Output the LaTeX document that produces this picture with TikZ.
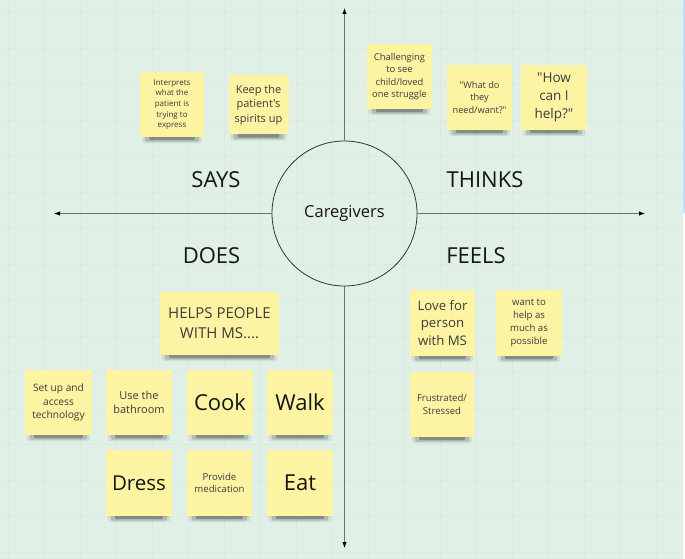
\documentclass[tikz,border=0pt]{standalone}
\usepackage{fontspec}
\setmainfont{Open Sans}[Ligatures=TeXOff]
\usetikzlibrary{arrows.meta}
\definecolor{bgc}{HTML}{E1F0E6}
\definecolor{gridc}{HTML}{D8EADE}
\definecolor{notec}{HTML}{FDF4A3}
\definecolor{axisc}{HTML}{707070}
\definecolor{smalltext}{HTML}{3C3C3C}
\definecolor{bigtext}{HTML}{151515}
\definecolor{stripc}{HTML}{C3DDF2}
\newcommand\fsz[1]{\fontsize{#1}{\fpeval{1.33*#1}}\selectfont}
\pgfdeclarelayer{back}
\pgfdeclarelayer{shadowlayer}
\pgfsetlayers{back,shadowlayer,main}
\tikzset{
  note/.style={rectangle, fill=notec, inner sep=0pt, align=center, text=smalltext},
  bignote/.style={note, text=bigtext},
  axisline/.style={draw=axisc, line width=0.9pt, -{Latex[length=6pt,width=4.5pt,color=black]}},
  quadlabel/.style={font=\fsz{22}, text=bigtext, inner sep=0pt},
  hub/.style={circle, draw=black!80, line width=0.8pt, minimum size=145pt, inner sep=0pt, font=\fsz{16.5}, text=bigtext}
}
\begin{document}
\begin{tikzpicture}[x=1pt,y=-1pt]
\useasboundingbox (0,0) rectangle (685,559);
\begin{pgfonlayer}{back}
\fill[bgc] (0,0) rectangle (685,559);
\foreach \x in {8,44,...,684} \draw[gridc, line width=0.5pt] (\x,0) -- (\x,559);
\foreach \y in {12,48,...,559} \draw[gridc, line width=0.5pt] (0,\y) -- (685,\y);
\fill[stripc] (683,0) rectangle (685,213);
\fill[white] (683,213) rectangle (685,559);
\end{pgfonlayer}

% hub and axes
\node[hub] (care) at (344.5,213.5) {Caregivers};
\coordinate (topend) at (344.5,8);
\coordinate (botend) at (344.5,548);
\coordinate (leftend) at (54,213.5);
\coordinate (rightend) at (645,213.5);
\draw[axisline] (care.north) -- (topend);
\draw[axisline] (care.south) -- (botend);
\draw[axisline] (care.west) -- (leftend);
\draw[axisline] (care.east) -- (rightend);

% quadrant labels
\node[quadlabel] (says) at (216,180) {SAYS};
\node[quadlabel] (thinks) at (485,180) {THINKS};
\node[quadlabel] (does) at (211.5,256) {DOES};
\node[quadlabel] (feels) at (476,256) {FEELS};

% SAYS
\node[note, minimum width=64pt, minimum height=65pt, font=\fsz{8}] (interp) at (172,104.5) {Interprets\\what the\\patient is\\trying to\\express};
\node[note, minimum width=60pt, minimum height=59pt, font=\fsz{11}] (keep) at (258.5,105) {Keep the\\patient's\\spirits up};

% THINKS
\node[note, minimum width=65pt, minimum height=65pt, font=\fsz{9.4}] (chall) at (399.5,76.5) {Challenging\\to see\\child/loved\\one struggle};
\node[note, minimum width=65pt, minimum height=65pt, font=\fsz{9.2}] (what) at (479.5,97.5) {"What do\\they\\need/want?"};
\node[note, minimum width=66pt, minimum height=65pt, font=\fsz{13.5}] (how) at (554,97.5) {"How\\can I\\help?"};

% FEELS
\node[note, minimum width=65pt, minimum height=66pt, font=\fsz{13.2}] (love) at (442.5,323) {Love for\\person\\with MS};
\node[note, minimum width=66pt, minimum height=66pt, font=\fsz{9.6}] (want) at (529,323) {want to\\help as\\much as\\possible};
\node[note, minimum width=64pt, minimum height=65pt, font=\fsz{9.6}] (frus) at (442,404.5) {Frustrated/\\Stressed};

% DOES
\node[note, minimum width=119pt, minimum height=63pt, font=\fsz{15}] (helps) at (219.5,323.5) {HELPS PEOPLE\\WITH MS....};
\node[note, minimum width=67pt, minimum height=65pt, font=\fsz{10.2}] (setup) at (58.5,402.5) {Set up and\\access\\technology};
\node[note, minimum width=66pt, minimum height=65pt, font=\fsz{11}] (bath) at (139,402.5) {Use the\\bathroom};
\node[bignote, minimum width=66pt, minimum height=65pt, font=\fsz{22}] (cook) at (220,402.5) {Cook};
\node[bignote, minimum width=66pt, minimum height=65pt, font=\fsz{22}] (walk) at (300,402.5) {Walk};
\node[bignote, minimum width=66pt, minimum height=66pt, font=\fsz{20.5}] (dress) at (139,483) {Dress};
\node[note, minimum width=65pt, minimum height=66pt, font=\fsz{9.6}] (provide) at (219.5,483) {Provide\\medication};
\node[bignote, minimum width=66pt, minimum height=66pt, font=\fsz{22}] (eat) at (300,483) {Eat};

% shadows under the notes
\begin{pgfonlayer}{shadowlayer}
\foreach \n in {interp,keep,chall,what,how,love,want,frus,helps,setup,bath,cook,walk,dress,provide,eat} {
  \fill[black, opacity=0.08, rounded corners=3pt] ([xshift=2pt,yshift=3pt]\n.south west) rectangle ([xshift=-2pt,yshift=-6pt]\n.south east);
  \fill[black, opacity=0.15, rounded corners=2pt] ([xshift=5pt,yshift=2pt]\n.south west) rectangle ([xshift=-5pt,yshift=-4.5pt]\n.south east);
  \fill[black, opacity=0.25, rounded corners=1.5pt] ([xshift=9pt,yshift=1pt]\n.south west) rectangle ([xshift=-9pt,yshift=-3pt]\n.south east);
}
\end{pgfonlayer}
\end{tikzpicture}
\end{document}
